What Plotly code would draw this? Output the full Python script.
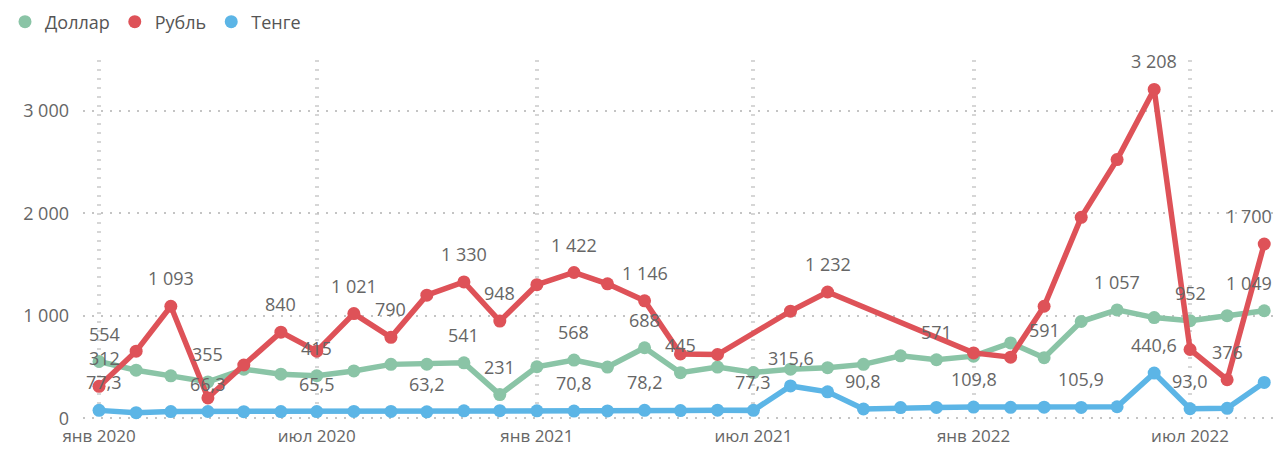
import plotly.graph_objects as go
import pandas as pd

# Monthly series, Jan 2020 - Sep 2022
months = pd.date_range("2020-01-01", "2022-09-01", freq="MS")

dollar = [554, 469, 414, 355, 479, 430, 415, 462, 526, 527, 541, 231,
          503, 568, 500, 688, 445, 500, 446, 479, 494, 526, 609, 571,
          606, 735, 591, 944, 1057, 982, 952, 1001, 1049]

ruble = [312, 655, 1093, 199, 520, 840, 655, 1021, 790, 1201, 1330, 948,
         1303, 1422, 1312, 1146, 628, 622, None, 1045, 1232, None, None, None,
         638, 596, 1093, 1960, 2523, 3208, 671, 376, 1700]

tenge = [77.3, 54.8, 66.0, 66.3, 64.9, 65.2, 65.5, 66.8, 67.4, 63.2, 72.5, 74.1,
         72.9, 70.8, 72.3, 78.2, 75.4, 79.6, 77.3, 315.6, 258.4, 90.8, 104.7, 106.2,
         109.8, 107.5, 108.3, 105.9, 112.4, 440.6, 93.0, 97.6, 349.5]

# Month indices that carry a value label
dollar_labeled = [0, 3, 6, 10, 11, 13, 15, 16, 23, 26, 28, 30, 32]
ruble_labeled = [0, 2, 5, 7, 8, 10, 11, 13, 15, 20, 29, 31, 32]
tenge_labeled = [0, 3, 6, 9, 13, 15, 18, 19, 21, 24, 27, 29, 30]

x_tick_dates = ["2020-01-01", "2020-07-01", "2021-01-01", "2021-07-01", "2022-01-01", "2022-07-01"]
x_tick_text = ["янв 2020", "июл 2020", "янв 2021", "июл 2021", "янв 2022", "июл 2022"]
y_tick_vals = [0, 1000, 2000, 3000]
y_tick_text = ["0", "1 000", "2 000", "3 000"]

GREEN = "#8AC4A6"
RED = "#DE5258"
BLUE = "#5CB5E6"
TEXT = "#666666"
FONT = "Segoe UI, Open Sans, sans-serif"


def ru_format(v, decimals):
    s = f"{v:,.{decimals}f}"
    return s.replace(",", " ").replace(".", ",")


series = [
    ("Доллар", dollar, GREEN, dollar_labeled, 0),
    ("Рубль", ruble, RED, ruble_labeled, 0),
    ("Тенге", tenge, BLUE, tenge_labeled, 1),
]

fig = go.Figure()
annotations = []
for name, vals, color, labeled, dec in series:
    fig.add_trace(go.Scatter(
        x=months, y=vals, name=name, mode="lines+markers",
        line=dict(color=color, width=5.5),
        marker=dict(color=color, size=13),
        connectgaps=True, showlegend=False, cliponaxis=False,
    ))
    # legend entry shows just the dot
    fig.add_trace(go.Scatter(
        x=[None], y=[None], name=name, mode="markers",
        marker=dict(color=color, size=13), showlegend=True,
    ))
    for i in labeled:
        xshift = 0
        if i == 0:
            xshift = 5
        elif i == len(months) - 1:
            xshift = -15
        annotations.append(dict(
            x=months[i], y=vals[i], xref="x", yref="y",
            text=ru_format(vals[i], dec), showarrow=False,
            yshift=28, xshift=xshift,
            font=dict(family=FONT, size=18, color=TEXT),
        ))

fig.update_layout(
    width=1276, height=449, autosize=False,
    margin=dict(l=83, r=1, t=60, b=29),
    paper_bgcolor="white", plot_bgcolor="white",
    font=dict(family=FONT, size=18, color=TEXT),
    annotations=annotations,
    legend=dict(
        orientation="h", xref="container", yref="container",
        x=5 / 1276, xanchor="left", y=1 - 22 / 449, yanchor="middle",
        font=dict(family=FONT, size=18, color="#555555"),
        itemwidth=30, tracegroupgap=0,
    ),
    xaxis=dict(
        type="date",
        range=["2019-12-18 14:00", "2022-09-10"],
        tickvals=x_tick_dates, ticktext=x_tick_text,
        showgrid=True, gridcolor="#D6D6D6", gridwidth=4, griddash="2px,7px",
        zeroline=False, showline=False, ticks="",
        tickfont=dict(family=FONT, size=17, color=TEXT),
        ticklabelstandoff=4, automargin=False,
    ),
    yaxis=dict(
        range=[-16.6, 3494.6],
        tickvals=y_tick_vals, ticktext=y_tick_text,
        showgrid=True, gridcolor="#C4C4C4", gridwidth=1.5, griddash="2px,7px",
        zeroline=False, showline=False, ticks="",
        tickfont=dict(family=FONT, size=18, color=TEXT),
        ticklabelstandoff=13, automargin=False,
    ),
)

fig.write_html("out.html")
